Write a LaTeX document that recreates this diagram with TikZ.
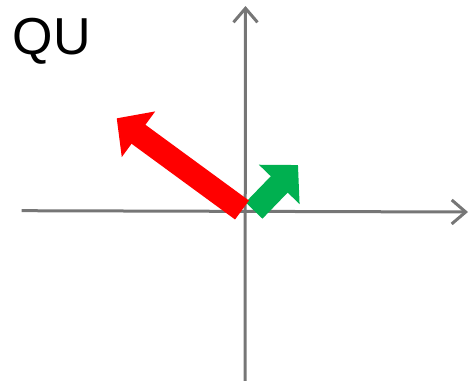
\documentclass[tikz,border=0pt]{standalone}
\usepackage{fontspec}
\setmainfont{Liberation Sans}
\usetikzlibrary{arrows.meta}
\definecolor{axisgray}{HTML}{767676}
\definecolor{qured}{HTML}{FF0000}
\definecolor{qugreen}{HTML}{00B050}

\begin{document}
\begin{tikzpicture}[x=1pt, y=-1pt,
        axis/.style={draw=axisgray, line width=3pt,
                     -{Straight Barb[length=14pt, width=24pt]}},
        block/.style={line width=23.5pt,
                      -{Triangle[length=27pt, width=55pt]}},
        title/.style={anchor=base west, inner sep=0pt, font=\fontsize{52}{52}\selectfont}
      ]
        \useasboundingbox (0,0) rectangle (475,381);

        % axes
        \coordinate (xl) at (21.7,210.7);
        \coordinate (xr) at (468,212);
        \coordinate (yb) at (245,381);
        \coordinate (yt) at (245.5,6);
        \draw[axis] (xl) -- (xr);
        \draw[axis] (yb) -- (yt);

        % vectors
        \coordinate (gtail) at (254,210.5);
        \coordinate (ghead) at (298,165);
        \coordinate (rtail) at (242,210);
        \coordinate (rhead) at (116.7,118.3);
        \draw[block, draw=qugreen] (gtail) -- (ghead);
        \draw[block, draw=qured] (rtail) -- (rhead);

        \node[title] (qu) at (12.5,54) {QU};
      \end{tikzpicture}
\end{document}
